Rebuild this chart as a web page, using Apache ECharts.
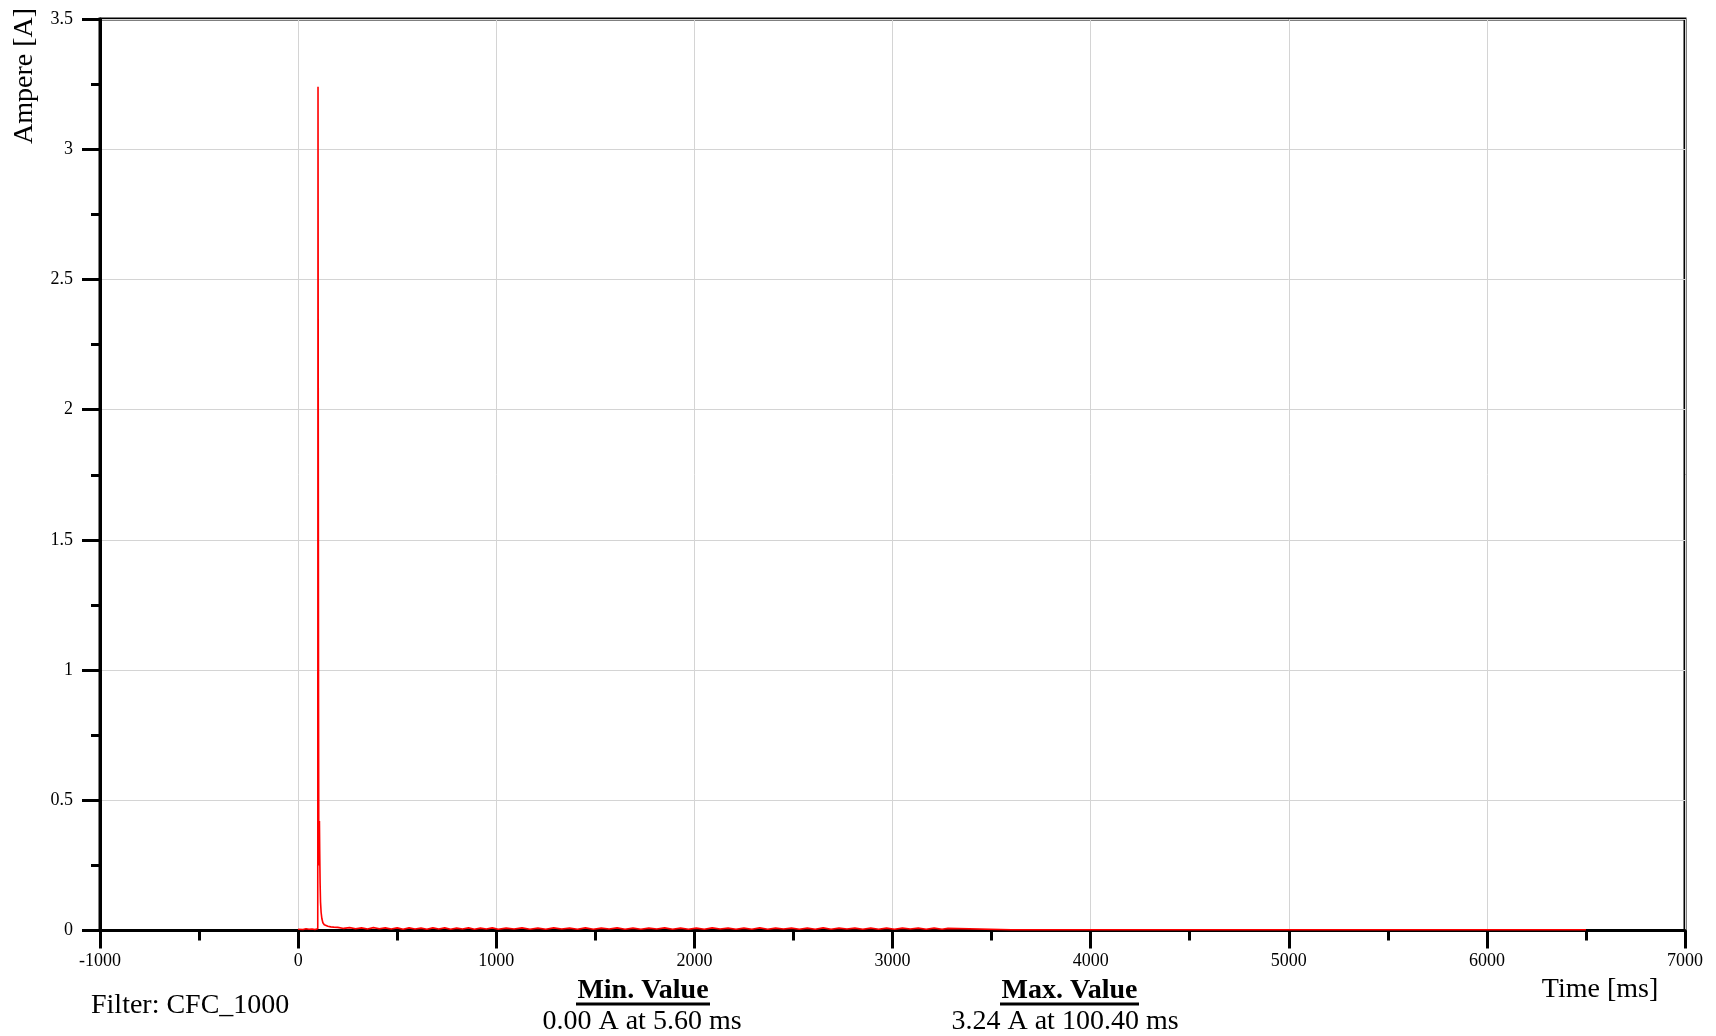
<!DOCTYPE html>
<html>
<head>
<meta charset="utf-8">
<script src="https://cdn.jsdelivr.net/npm/echarts@6/dist/echarts.min.js"></script>
<style>
html,body{margin:0;padding:0;background:#fff;}
#chart{width:1716px;height:1036px;}
</style>
</head>
<body>
<div id="chart"></div>
<script>
// Time [ms] of each sample
const timeMs = [
  0, 10, 25, 40, 55, 70, 85, 95, 99, 100.4, 101.5, 103, 104.5, 106, 107.5, 109, 111, 113, 116, 120, 125, 132, 140, 150, 165, 180,
  200, 230, 260, 290, 320, 350, 380, 410, 440, 470, 500, 530, 560, 590, 620, 650, 680, 710, 740, 770, 800, 830, 860, 890, 920, 950, 980,
  1010, 1050, 1090, 1130, 1170, 1210, 1250, 1290, 1330, 1370, 1410, 1450, 1490, 1530, 1570, 1610, 1650, 1690, 1730, 1770, 1810, 1850, 1890, 1930, 1970,
  2010, 2050, 2090, 2130, 2170, 2210, 2250, 2290, 2330, 2370, 2410, 2450, 2490, 2530, 2570, 2610, 2650, 2690, 2730, 2770, 2810, 2850, 2890, 2930, 2970,
  3010, 3050, 3090, 3130, 3170, 3210, 3250, 3280, 3285, 3600, 4000, 4500, 5000, 5500, 6000, 6500
];
// Current [A]
const ampere = [
  0.005, 0.006, 0.004, 0.007, 0.005, 0.006, 0.004, 0.006, 0.007, 3.24, 2.1, 0.9, 0.25, 0.35, 0.42, 0.30, 0.18, 0.11, 0.07, 0.045, 0.03, 0.022, 0.018, 0.016, 0.014, 0.013,
  0.012, 0.008, 0.011, 0.007, 0.010, 0.006, 0.011, 0.007, 0.010, 0.006, 0.010, 0.005, 0.010, 0.006, 0.009, 0.005, 0.010, 0.006, 0.010, 0.005, 0.009, 0.006, 0.010, 0.005, 0.009, 0.006, 0.010,
  0.005, 0.009, 0.006, 0.010, 0.005, 0.009, 0.005, 0.010, 0.006, 0.009, 0.005, 0.010, 0.005, 0.009, 0.006, 0.010, 0.005, 0.009, 0.005, 0.009, 0.006, 0.010, 0.005, 0.009, 0.005,
  0.009, 0.005, 0.010, 0.006, 0.009, 0.005, 0.009, 0.005, 0.010, 0.005, 0.009, 0.006, 0.009, 0.005, 0.009, 0.005, 0.010, 0.005, 0.009, 0.006, 0.009, 0.005, 0.009, 0.005, 0.009,
  0.005, 0.009, 0.006, 0.009, 0.005, 0.009, 0.005, 0.008, 0.003, 0.003, 0.003, 0.003, 0.003, 0.003, 0.003, 0.003
];
const xTicks = { min: -1000, max: 7000, interval: 1000 };
const yTicks = { min: 0, max: 3.5, interval: 0.5 };
const yAxisTitle = 'Ampere [A]';
const xAxisTitle = 'Time [ms]';
const filterText = 'Filter: CFC_1000';
const minTitle = 'Min. Value';
const minText = '0.00 A at 5.60 ms';
const maxTitle = 'Max. Value';
const maxText = '3.24 A at 100.40 ms';

const FONT = '"Liberation Serif", "Times New Roman", serif';
const data = timeMs.map((t, i) => [t, ampere[i]]);

const chart = echarts.init(document.getElementById('chart'), null, { renderer: 'canvas' });
chart.setOption({
  animation: false,
  backgroundColor: '#fff',
  grid: { left: 100, right: 31, top: 19, bottom: 105.5, show: true, borderColor: '#000', borderWidth: 3, backgroundColor: 'transparent' },
  xAxis: {
    type: 'value', min: xTicks.min, max: xTicks.max, interval: xTicks.interval,
    axisLine: { show: true, onZero: false, lineStyle: { color: '#000', width: 3 } },
    axisTick: { show: true, inside: false, length: 18, lineStyle: { color: '#000', width: 3 } },
    minorTick: { show: true, splitNumber: 2, length: 10, lineStyle: { color: '#000', width: 3 } },
    axisLabel: { show: true, margin: 22, color: '#000', fontFamily: FONT, fontSize: 18, showMinLabel: true, showMaxLabel: true,
      formatter: v => String(v) },
    splitLine: { show: true, lineStyle: { color: '#d4d4d4', width: 1 } }
  },
  yAxis: {
    type: 'value', min: yTicks.min, max: yTicks.max, interval: yTicks.interval,
    axisLine: { show: true, onZero: false, lineStyle: { color: '#000', width: 3 } },
    axisTick: { show: true, inside: false, length: 18, lineStyle: { color: '#000', width: 3 } },
    minorTick: { show: true, splitNumber: 2, length: 9, lineStyle: { color: '#000', width: 3 } },
    axisLabel: { show: true, margin: 27, color: '#000', fontFamily: FONT, fontSize: 18, showMinLabel: true, showMaxLabel: true,
      formatter: v => String(v) },
    splitLine: { show: true, lineStyle: { color: '#d4d4d4', width: 1 } }
  },
  series: [{
    type: 'line', data: data, showSymbol: false, symbol: 'none', z: 5,
    lineStyle: { color: '#ff0000', width: 1.6 }
  }],
  graphic: [
    { type: 'text', x: 25, y: 76, rotation: Math.PI / 2,
      style: { text: yAxisTitle, font: '28px ' + FONT, fill: '#000', align: 'center', verticalAlign: 'middle' } },
    { type: 'text', x: 1600, y: 990,
      style: { text: xAxisTitle, font: '28px ' + FONT, fill: '#000', align: 'center', verticalAlign: 'middle' } },
    { type: 'text', x: 91, y: 1006,
      style: { text: filterText, font: '28px ' + FONT, fill: '#000', align: 'left', verticalAlign: 'middle' } },
    { type: 'text', x: 643, y: 991,
      style: { text: minTitle, font: 'bold 28px ' + FONT, fill: '#000', align: 'center', verticalAlign: 'middle' } },
    { type: 'line', shape: { x1: 576, y1: 1004, x2: 710, y2: 1004 }, style: { stroke: '#000', lineWidth: 3 } },
    { type: 'text', x: 642, y: 1022,
      style: { text: minText, font: '28px ' + FONT, fill: '#000', align: 'center', verticalAlign: 'middle' } },
    { type: 'text', x: 1069.5, y: 991,
      style: { text: maxTitle, font: 'bold 28px ' + FONT, fill: '#000', align: 'center', verticalAlign: 'middle' } },
    { type: 'line', shape: { x1: 1000, y1: 1004, x2: 1139, y2: 1004 }, style: { stroke: '#000', lineWidth: 3 } },
    { type: 'text', x: 1065, y: 1022,
      style: { text: maxText, font: '28px ' + FONT, fill: '#000', align: 'center', verticalAlign: 'middle' } }
  ]
});
</script>
</body>
</html>
